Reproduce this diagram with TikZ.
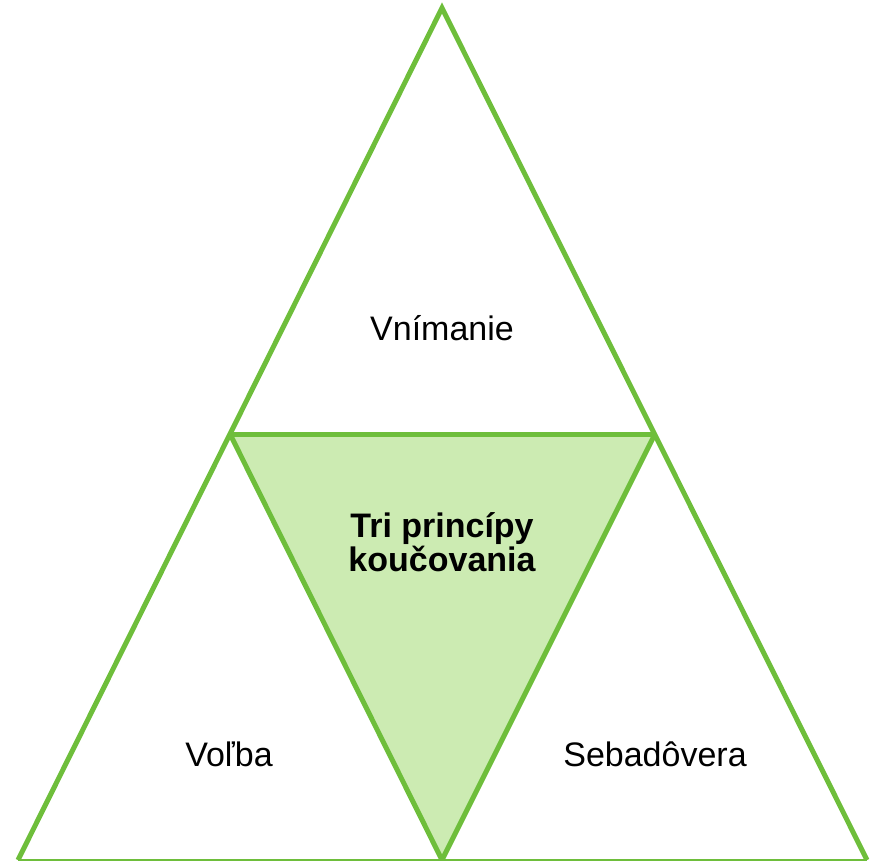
\documentclass[tikz,border=0pt]{standalone}
\usepackage{fontspec}
\setmainfont{Liberation Sans}
\definecolor{zelena}{HTML}{6EBE3B}
\definecolor{svetla}{HTML}{CCEBB2}
\tikzset{
  hrana/.style={draw=zelena, line width=5pt, line join=miter},
  popis/.style={font=\fontsize{34}{38}\selectfont, align=center}
}
\begin{document}
\begin{tikzpicture}[x=1pt,y=-1pt]
\useasboundingbox (0,0) rectangle (875,860);
\clip (0,0) rectangle (875,860);
% Vrcholy
\coordinate (A) at (442,8);
\coordinate (L) at (18,860);
\coordinate (R) at (867,860);
\coordinate (ML) at (230,434);
\coordinate (MR) at (655,434);
\coordinate (MD) at (442,860);
% Stredny trojuholnik
\fill[svetla] (ML) -- (MR) -- (MD) -- cycle;
% Obrys
\draw[hrana] (L) -- (A) -- (R);
\draw[hrana] (ML) -- (MR);
\draw[hrana] (ML) -- (MD) -- (MR);
\draw[zelena, line width=2pt] (L) -- (R);
% Popisy
\node[popis] (vnim) at (442,328) {Vnímanie};
\node[popis] (volba) at (229,754) {Voľba};
\node[popis] (seba) at (655,754) {Sebadôvera};
\node[popis, font=\fontsize{34}{32}\selectfont\bfseries] (stred) at (442,542) {Tri princípy\\koučovania};
\end{tikzpicture}
\end{document}
